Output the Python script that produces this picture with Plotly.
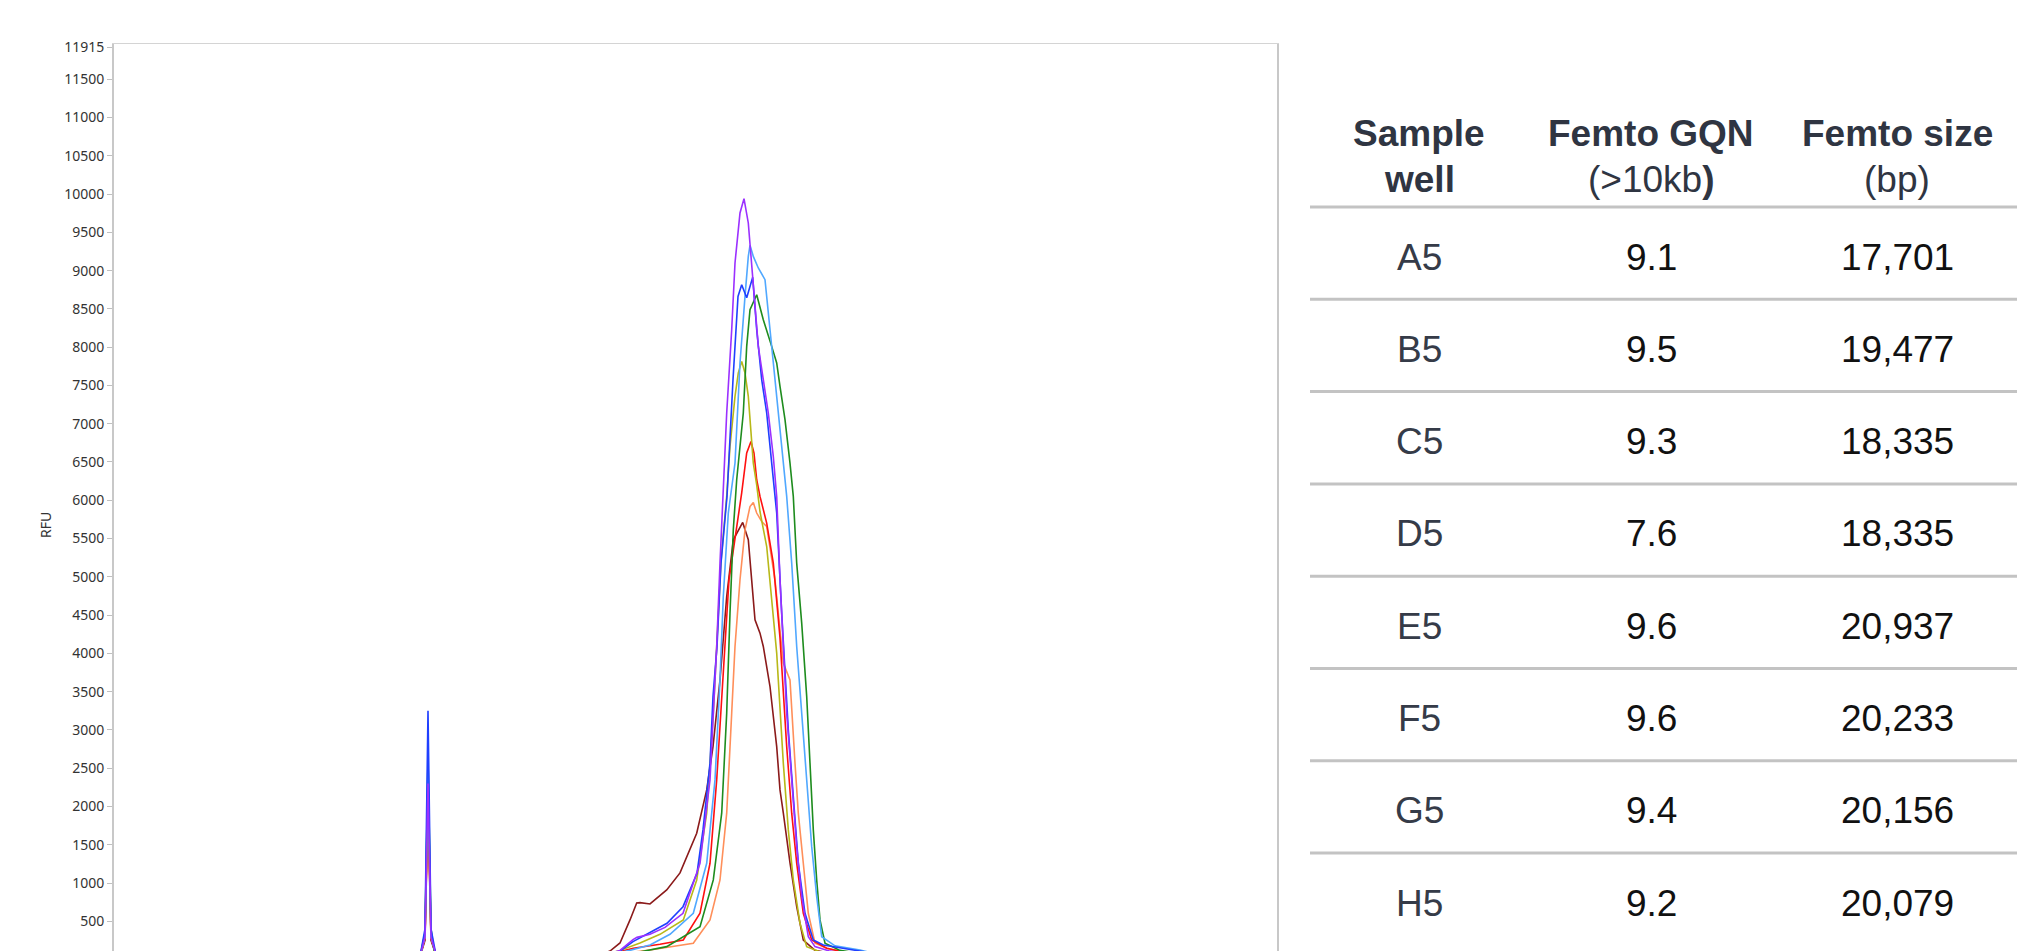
import plotly.graph_objects as go

# ---------------- data ----------------
# electropherogram traces: (migration time [s], RFU)
trace_names = ["A5", "B5", "C5", "D5", "E5", "F5", "G5", "H5"]

maroon_pts = [(11.4,30),(42.0,40),(42.5,250),(42.8,2000),(43.1,250),(43.6,60),(59.0,40),(60.0,60),(61.0,112),
              (62.0,217),(63.0,518),(63.67,740),(64.0,744),(65.0,727),(66.67,910),(68.0,1132),(69.67,1650),
              (70.67,2216),(71.3,2782),(72.0,3654),(72.67,4743),(73.33,5484),(74.27,5710),(74.83,5484),
              (75.5,4438),(76.0,4264),(76.33,4090),(77.0,3567),(77.67,2782),(78.0,2216),(78.33,1916),
              (79.0,1262),(79.67,691),(80.33,256),(81.5,120),(84.0,60),(127.7,30)]
orange_pts = [(11.4,30),(42.0,40),(42.5,300),(42.8,2400),(43.1,300),(43.6,60),(60.0,40),(65.0,125),(69.33,213),
              (71.0,518),(72.0,1040),(72.67,1912),(73.17,3219),(73.5,4090),(74.0,4961),(74.5,5614),(75.0,5918),
              (75.33,5971),(75.67,5833),(76.17,5723),(76.67,5657),(77.5,4961),(78.33,3872),(79.0,3654),
              (79.5,2566),(79.83,1912),(80.33,1258),(80.83,605),(81.5,213),(82.67,148),(85.0,80),(127.7,30)]
red_pts = [(11.4,30),(42.0,40),(42.5,280),(42.8,2100),(43.1,280),(43.6,60),(60.0,40),(63.33,148),(66.0,200),
           (68.33,256),(70.0,605),(71.0,1258),(71.67,2347),(72.3,3654),(72.9,4961),(73.5,5500),(74.17,6097),
           (74.67,6617),(75.1,6768),(75.4,6617),(75.67,6268),(76.0,6050),(76.67,5702),(77.33,5179),(78.0,4200),
           (78.67,2782),(79.17,1912),(79.67,1258),(80.33,605),(81.17,256),(82.67,148),(85.0,80),(127.7,30)]
olive_pts = [(11.4,30),(42.0,40),(42.5,300),(42.8,2200),(43.1,300),(43.6,60),(60.0,40),(62.0,120),(64.0,217),
             (66.0,330),(68.33,518),(69.67,1040),(70.67,1912),(71.33,3219),(71.67,4090),(72.1,5200),(72.67,6050),
             (73.0,6703),(73.5,7356),(73.83,7662),(74.17,7814),(74.5,7662),(74.83,7356),(75.1,6921),(75.33,6486),
             (75.67,6200),(76.0,5850),(76.67,5396),(77.17,4743),(77.67,4004),(77.83,3654),(78.33,2566),
             (78.83,1694),(79.33,1040),(80.0,474),(80.67,169),(82.0,100),(85.0,60),(127.7,30)]
green_pts = [(11.4,30),(42.0,40),(42.5,350),(42.8,2640),(43.1,400),(43.4,125),(44.0,50),(60.0,40),(64.0,100),
             (66.67,169),(70.0,430),(71.33,1040),(72.17,1912),(72.67,3219),(73.0,4526),(73.33,5614),(73.67,6268),
             (74.33,7140),(74.67,8010),(75.0,8489),(75.67,8685),(76.33,8358),(77.17,8010),(77.67,7793),
             (78.0,7487),(78.5,7052),(79.0,6486),(79.33,6050),(79.67,5179),(80.17,4395),(80.67,3436),
             (81.0,2566),(81.33,1694),(81.67,1040),(82.0,518),(82.5,213),(84.0,120),(87.0,60),(127.7,30)]
lightblue_pts = [(11.4,30),(42.0,40),(42.5,300),(42.8,2500),(43.1,300),(43.6,60),(60.0,40),(63.0,120),(65.0,191),
                 (67.0,330),(69.33,605),(70.67,1258),(71.5,2347),(72.0,3654),(72.33,4743),(72.83,5833),
                 (73.5,6486),(74.0,7793),(74.5,8663),(74.83,9186),(75.0,9330),(75.33,9186),(75.83,9034),
                 (76.5,8881),(77.0,8228),(77.5,7575),(78.0,6921),(78.5,6268),(78.67,6050),(79.17,5179),
                 (79.67,4090),(80.17,3219),(80.67,2347),(81.17,1475),(81.67,822),(82.17,299),(83.5,180),
                 (86.0,125),(88.0,60),(127.7,30)]
blue_pts = [(11.4,30),(42.0,40),(42.5,400),(42.8,3250),(43.1,400),(43.6,60),(60.0,40),(62.0,110),(63.3,234),
            (65.0,350),(66.7,474),(68.3,691),(69.7,1128),(70.3,1694),(71.0,2566),(71.3,3436),(71.7,4090),
            (72.1,5179),(72.7,6050),(73.3,7575),(73.8,8663),(74.17,8816),(74.67,8646),(75.27,8912),
            (75.67,8228),(76.17,7575),(76.67,7140),(77.17,6486),(77.5,6050),(77.67,5833),(78.17,4526),
            (78.83,3000),(79.33,2129),(79.83,1258),(80.5,605),(81.33,256),(82.33,191),(84.33,148),
            (86.5,100),(88.0,50),(127.7,30)]
purple_pts = [(11.4,30),(42.0,40),(42.5,300),(42.8,2300),(43.1,300),(43.6,60),(60.0,40),(62.0,120),(63.3,260),
              (63.7,290),(65.0,330),(66.5,420),(68.3,605),(70.0,1258),(71.0,2347),(71.67,4090),(72.0,5179),
              (72.27,6050),(72.67,7140),(73.17,8228),(73.5,9100),(74.0,9753),(74.4,9940),(74.83,9622),
              (75.17,9100),(75.4,8663),(75.83,8010),(76.33,7575),(76.83,7140),(77.33,6572),(77.67,6050),
              (78.0,4961),(78.67,3222),(79.17,2347),(79.67,1475),(80.17,822),(80.83,299),(81.5,169),
              (83.0,110),(86.0,60),(127.7,30)]

series = [
    ("D5", maroon_pts, "#8b1a1a"),
    ("G5", orange_pts, "#ff8f5a"),
    ("F5", red_pts, "#ff1010"),
    ("H5", olive_pts, "#b8b818"),
    ("E5", green_pts, "#1e8c1e"),
    ("C5", lightblue_pts, "#50a8ff"),
    ("B5", blue_pts, "#1f3fff"),
    ("A5", purple_pts, "#9b30ff"),
]

y_tickvals = [500, 1000, 1500, 2000, 2500, 3000, 3500, 4000, 4500, 5000, 5500, 6000,
              6500, 7000, 7500, 8000, 8500, 9000, 9500, 10000, 10500, 11000, 11500, 11915]
y_range = [112, 11960]
x_range = [11.4, 127.7]

# table
table_header_1 = ["Sample", "Femto GQN", "Femto size"]
table_header_2 = ["<b>well</b>", "(&gt;10kb<b>)</b>", "(bp)"]
sample_well = ["A5", "B5", "C5", "D5", "E5", "F5", "G5", "H5"]
femto_gqn = ["9.1", "9.5", "9.3", "7.6", "9.6", "9.6", "9.4", "9.2"]
femto_size = ["17,701", "19,477", "18,335", "18,335", "20,937", "20,233", "20,156", "20,079"]

# ---------------- layout geometry ----------------
W, H = 2030, 951
ML, MR, MT, MB = 114, 753, 44, 0
PW, PH = W - ML - MR, H - MT - MB


def px(xp):
    return (xp - ML) / PW


def py(yp):
    return (H - MB - yp) / PH


fig = go.Figure()
for name, pts, color in series:
    xs = [p[0] for p in pts]
    ys = [p[1] for p in pts]
    fig.add_trace(go.Scatter(x=xs, y=ys, mode="lines", name=name,
                             line=dict(color=color, width=1.6), showlegend=False))

annotations = [dict(text="RFU", x=px(45), y=py(525), xref="paper", yref="paper",
                    showarrow=False, textangle=-90, xanchor="center", yanchor="middle",
                    font=dict(family="Noto Sans", size=14, color="#333333"))]
shapes = []

col_x = [1419, 1651, 1897]
tfont = "Liberation Sans, Arial, sans-serif"
head_color = "#2f3542"
for i in range(3):
    annotations.append(dict(text="<b>" + table_header_1[i] + "</b>", x=px(col_x[i]), y=py(133),
                            xref="paper", yref="paper", showarrow=False, xanchor="center", yanchor="middle",
                            font=dict(family=tfont, size=37, color=head_color)))
    annotations.append(dict(text=table_header_2[i], x=px(col_x[i]), y=py(179),
                            xref="paper", yref="paper", showarrow=False, xanchor="center", yanchor="middle",
                            font=dict(family=tfont, size=37, color=head_color)))

row0, pitch, line0 = 257, 92.3, 207
for k in range(len(sample_well)):
    yc = row0 + pitch * k
    for i, (txt, colr) in enumerate([(sample_well[k], "#353b48"), (femto_gqn[k], "#111111"),
                                     (femto_size[k], "#111111")]):
        annotations.append(dict(text=txt, x=px(col_x[i]), y=py(yc), xref="paper", yref="paper",
                                showarrow=False, xanchor="center", yanchor="middle",
                                font=dict(family=tfont, size=37, color=colr)))
for k in range(8):
    yl = line0 + pitch * k
    shapes.append(dict(type="line", xref="paper", yref="paper", x0=px(1310), x1=px(2017),
                       y0=py(yl), y1=py(yl), line=dict(color="#c3c3c3", width=3)))

fig.update_layout(
    width=W, height=H,
    margin=dict(l=ML, r=MR, t=MT, b=MB),
    paper_bgcolor="white", plot_bgcolor="white",
    xaxis=dict(range=x_range, side="top", showline=True, linecolor="#d4d4d4", linewidth=1,
               ticks="", showticklabels=False, showgrid=False, zeroline=False),
    yaxis=dict(range=y_range, tickvals=y_tickvals, ticktext=[str(v) for v in y_tickvals],
               ticks="outside", ticklen=5, tickcolor="#c0c0c0", tickwidth=1,
               showline=True, mirror=True, linecolor="#c8c8c8", linewidth=2,
               showgrid=False, zeroline=False,
               tickfont=dict(family="Noto Sans", size=14, color="#333333")),
    annotations=annotations, shapes=shapes,
)

fig.write_html("out.html")
